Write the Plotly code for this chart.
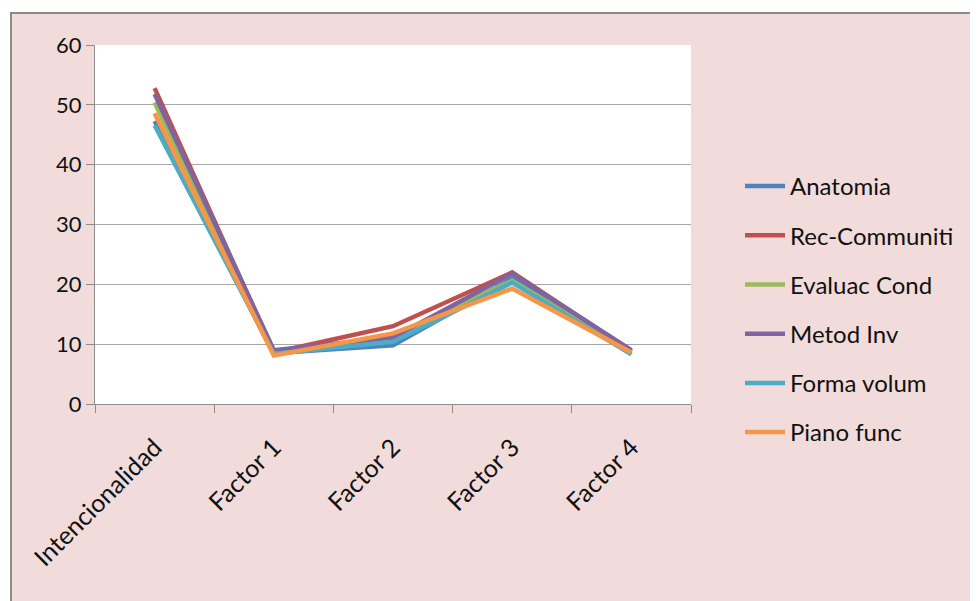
import plotly.graph_objects as go

categories = ["Intencionalidad", "Factor 1", "Factor 2", "Factor 3", "Factor 4"]
anatomia = [47.3, 8.5, 9.8, 21.0, 8.7]
rec_communiti = [52.8, 8.6, 13.0, 22.0, 8.8]
evaluac_cond = [50.4, 8.4, 11.4, 20.6, 8.6]
metod_inv = [51.8, 9.0, 11.1, 21.8, 9.0]
forma_volum = [46.6, 8.4, 10.4, 20.3, 8.3]
piano_func = [48.6, 8.1, 11.8, 19.3, 8.6]

series = [
    ("Anatomia", anatomia, "#4F81BD"),
    ("Rec-Communiti", rec_communiti, "#C0504D"),
    ("Evaluac Cond", evaluac_cond, "#9BBB59"),
    ("Metod Inv", metod_inv, "#8064A2"),
    ("Forma volum", forma_volum, "#4BACC6"),
    ("Piano func", piano_func, "#F79646"),
]

W, H = 978, 601
L, R, T, B = 87, 295, 37, 205
PW, PH = W - L - R, H - T - B

def px(x):
    return (x - L) / PW

def py(y):
    return (H - B - y) / PH

fig = go.Figure()
for name, vals, color in series:
    fig.add_trace(go.Scatter(
        x=categories, y=vals, name=name, mode="lines",
        line=dict(color=color, width=4.5), legendgroup=name,
    ))

fig.update_layout(
    width=W, height=H,
    margin=dict(l=L, r=R, t=T, b=B),
    paper_bgcolor="white",
    plot_bgcolor="white",
    font=dict(family="Lato, Open Sans, sans-serif", size=22, color="#111111"),
    showlegend=True,
    legend=dict(
        x=px(732), y=py(156), xanchor="left", yanchor="top",
        bgcolor="rgba(0,0,0,0)", tracegroupgap=15,
        font=dict(size=24), itemwidth=40,
    ),
    shapes=[
        dict(type="rect", xref="paper", yref="paper", layer="below",
             x0=px(3), x1=px(1000), y0=py(5), y1=py(640),
             fillcolor="#F2DCDB", line=dict(color="#8A8A8A", width=2)),
        dict(type="rect", xref="paper", yref="paper", layer="below",
             x0=0, x1=1, y0=0, y1=1,
             fillcolor="white", line=dict(width=0)),
    ],
)

fig.update_xaxes(
    type="category", range=[-0.5, 4.5], tickangle=-45,
    showline=True, linecolor="#8C8C8C", linewidth=1,
    ticks="outside", tickson="boundaries", ticklen=8, tickcolor="#8C8C8C",
    showgrid=False, zeroline=False, tickfont=dict(size=25),
    ticklabelstandoff=18,
)
fig.update_yaxes(
    range=[0, 60], dtick=10, tick0=0,
    showline=True, linecolor="#8C8C8C", linewidth=1,
    ticks="outside", ticklen=8, tickcolor="#8C8C8C",
    showgrid=True, gridcolor="#A6A6A6", gridwidth=1,
    zeroline=False, tickfont=dict(size=22),
)

fig.write_html("out.html")
